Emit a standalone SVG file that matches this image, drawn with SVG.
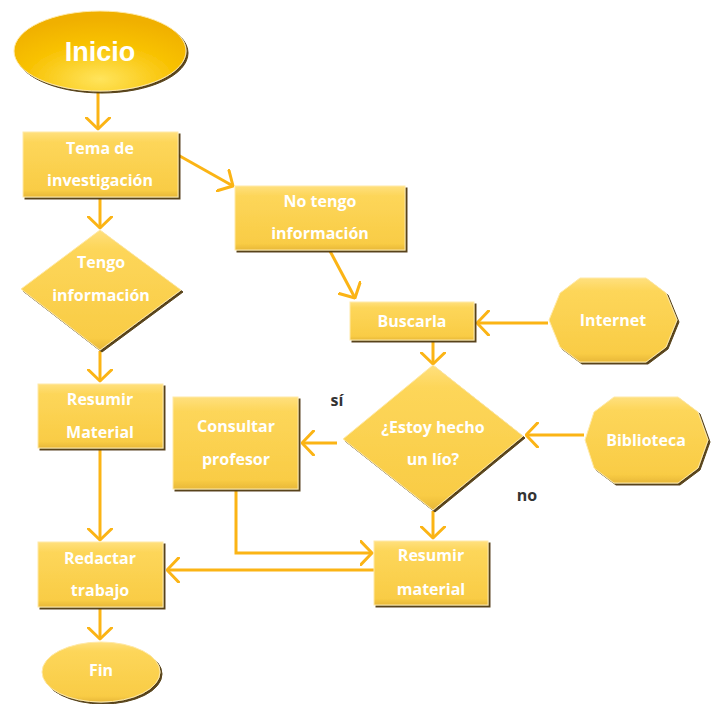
<svg xmlns="http://www.w3.org/2000/svg" width="712" height="704" viewBox="0 0 712 704">
<defs>
<style>
.box{fill:url(#gBox);stroke:#FFE9A8;stroke-width:1;filter:url(#sh)}
.t{font-family:"Open Sans","Noto Sans","DejaVu Sans",sans-serif;font-weight:bold;font-size:16px;fill:#FFFFFF;text-anchor:middle}
.lbl{font-family:"Open Sans","Noto Sans","DejaVu Sans",sans-serif;font-weight:bold;font-size:16px;fill:#333333;text-anchor:middle}
.c{fill:none;stroke:#FBB415;stroke-width:3;marker-end:url(#ah)}
</style>
<linearGradient id="gBox" x1="0" y1="0" x2="0" y2="1">
<stop offset="0" stop-color="#FFE07E"/>
<stop offset="0.15" stop-color="#FDD65A"/>
<stop offset="0.9" stop-color="#F9CC45"/>
<stop offset="1" stop-color="#E8B838"/>
</linearGradient>
<radialGradient id="gStart" cx="0.5" cy="0.85" r="0.75">
<stop offset="0" stop-color="#FFE45C"/>
<stop offset="0.6" stop-color="#F8C100"/>
<stop offset="1" stop-color="#F0B000"/>
</radialGradient>
<filter id="sh" x="-10%" y="-10%" width="125%" height="130%">
<feDropShadow dx="2" dy="2" stdDeviation="0.6" flood-color="#4F3A0C" flood-opacity="0.95"/>
</filter>
<marker id="ah" viewBox="0 0 14 26" refX="12.5" refY="13" markerWidth="14" markerHeight="26" markerUnits="userSpaceOnUse" orient="auto">
<path d="M1,1 L12.5,13 L1,25" fill="none" stroke="#FBB415" stroke-width="3" stroke-linecap="round" stroke-linejoin="round"/>
</marker>
</defs>

<g id="connectors">
<path class="c" d="M98,91 L98,129"/>
<path class="c" d="M178,155 L233,186"/>
<path class="c" d="M330,251 L355,298"/>
<path class="c" d="M548,323 L477,323"/>
<path class="c" d="M433,341 L433,364"/>
<path class="c" d="M584,435 L526,435"/>
<path class="c" d="M337,443 L302,443"/>
<path class="c" d="M236,490 L236,553 L372,553"/>
<path class="c" d="M433,511 L433,538"/>
<path class="c" d="M374,570 L167,570"/>
<path class="c" d="M100,198 L100,228"/>
<path class="c" d="M100,351 L100,381"/>
<path class="c" d="M100,449 L100,540"/>
<path class="c" d="M100,608 L100,639"/>
</g>

<g id="inicio">
<ellipse cx="100" cy="51" rx="86" ry="40" fill="url(#gStart)" stroke="#FFE9A8" stroke-width="1" filter="url(#sh)"/>
<text x="100" y="61" font-family="'Liberation Sans',Arial,sans-serif" font-weight="bold" font-size="27" fill="#FFFFFF" text-anchor="middle">Inicio</text>
</g>

<g id="tema">
<rect class="box" x="23" y="132" width="155" height="65"/>
<text class="t" x="100" y="154">Tema de</text>
<text class="t" x="100" y="186">investigación</text>
</g>

<g id="notengo">
<rect class="box" x="235" y="186" width="170" height="64"/>
<text class="t" x="320" y="207">No tengo</text>
<text class="t" x="320" y="239">información</text>
</g>

<g id="buscarla">
<rect class="box" x="350" y="302" width="124" height="38"/>
<text class="t" x="412" y="327">Buscarla</text>
</g>

<g id="internet">
<polygon class="box" points="580,278 646,278 666,293 677,320 666,347 646,362 580,362 560,347 549,320 560,293"/>
<text class="t" x="613" y="326">Internet</text>
</g>

<g id="estoy">
<polygon class="box" points="433,365 523,436 433,510 343,439"/>
<text class="t" x="433" y="433">¿Estoy hecho</text>
<text class="t" x="433" y="465">un lío?</text>
</g>

<g id="biblioteca">
<polygon class="box" points="614,397 678,397 698,412 708,440 698,468 678,483 614,483 594,468 585,440 594,412"/>
<text class="t" x="646" y="446">Biblioteca</text>
</g>

<g id="consultar">
<rect class="box" x="173" y="397" width="125" height="92"/>
<text class="t" x="236" y="432">Consultar</text>
<text class="t" x="236" y="465">profesor</text>
</g>

<g id="resumir2">
<rect class="box" x="374" y="541" width="114" height="64"/>
<text class="t" x="431" y="561">Resumir</text>
<text class="t" x="431" y="595">material</text>
</g>

<g id="tengo">
<polygon class="box" points="100,230 181,290 100,350 21,289"/>
<text class="t" x="101" y="268">Tengo</text>
<text class="t" x="101" y="301">información</text>
</g>

<g id="resumir1">
<rect class="box" x="38" y="384" width="125" height="64"/>
<text class="t" x="100" y="405">Resumir</text>
<text class="t" x="100" y="438">Material</text>
</g>

<g id="redactar">
<rect class="box" x="38" y="542" width="125" height="65"/>
<text class="t" x="100" y="564">Redactar</text>
<text class="t" x="100" y="596">trabajo</text>
</g>

<g id="fin">
<ellipse class="box" cx="101" cy="672" rx="59" ry="30"/>
<text class="t" x="101" y="676">Fin</text>
</g>

<g id="labels">
<text class="lbl" x="337" y="406">sí</text>
<text class="lbl" x="527" y="501">no</text>
</g>
</svg>
